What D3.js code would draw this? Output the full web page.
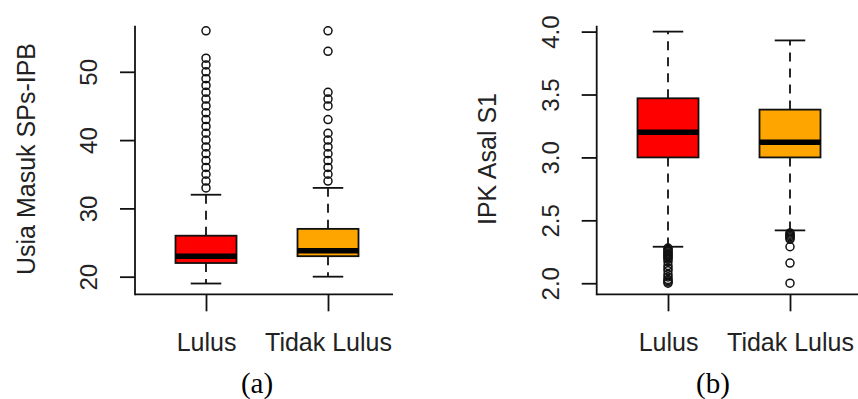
<!DOCTYPE html>
<html><head><meta charset="utf-8">
<script src="https://cdn.jsdelivr.net/npm/d3@7/dist/d3.min.js"></script>
<style>
html,body{margin:0;padding:0;background:#fff;}
svg{display:block;}
</style></head>
<body>
<svg id="c" width="858" height="399"></svg>
<script>
// ---------------- DATA ----------------
const categories = ["Lulus", "Tidak Lulus"];
const boxColors = ["#FF0000", "#FFA500"];

// Panel (a): Usia Masuk SPs-IPB
const ageTicks = [20, 30, 40, 50];
const ageLowerWhisker = [19, 20];
const ageQ1 = [22, 23];
const ageMedian = [23, 23.8];
const ageQ3 = [26, 27];
const ageUpperWhisker = [32, 33];
const ageOutliersLulus = [33,34,35,36,37,38,39,40,41,42,43,44,45,46,47,48,49,50,51,52,56];
const ageOutliersTidak = [34,35,36,37,38,39,40,41,43,45,46,47,53,56];

// Panel (b): IPK Asal S1
const ipkTicks = [2.0, 2.5, 3.0, 3.5, 4.0];
const ipkLowerWhisker = [2.29, 2.42];
const ipkQ1 = [3.0, 3.0];
const ipkMedian = [3.2, 3.12];
const ipkQ3 = [3.47, 3.38];
const ipkUpperWhisker = [4.0, 3.93];
const ipkOutliersLulus = [2.28,2.27,2.26,2.25,2.24,2.23,2.22,2.21,2.2,2.19,2.17,2.14,2.12,2.1,2.07,2.05,2.03,2.02,2.01,2.0];
const ipkOutliersTidak = [2.4,2.39,2.38,2.37,2.36,2.35,2.29,2.16,2.0];

// ---------------- DRAW ----------------
const svg = d3.select("#c");
const FONT = "'Liberation Sans', Arial, sans-serif";
const TXT = "#222";

function panel(opt) {
  const g = svg.append("g");
  const y = d3.scaleLinear().domain(opt.yDomain).range([opt.bottom, opt.top]);
  const x = d3.scalePoint().domain(categories).range(opt.xRange);
  const bw = 61;

  // Y axis
  const ya = g.append("g").attr("transform", `translate(${opt.left},0)`)
    .call(d3.axisLeft(y).tickValues(opt.ticks).tickFormat(opt.fmt).tickSize(15).tickSizeOuter(0));
  ya.select(".domain").remove();
  ya.selectAll(".tick line").attr("stroke", "#111").attr("stroke-width", 1.8);
  ya.selectAll(".tick text")
    .attr("x", null).attr("dy", null).attr("y", null)
    .attr("transform", "translate(-38,0) rotate(-90)")
    .attr("text-anchor", "middle")
    .attr("fill", TXT)
    .style("font-family", FONT).style("font-size", "24px");

  // L-shaped frame
  g.append("line").attr("x1", opt.left).attr("x2", opt.left)
    .attr("y1", opt.top).attr("y2", opt.bottom + 0.9)
    .attr("stroke", "#111").attr("stroke-width", 1.8);
  g.append("line").attr("x1", opt.left).attr("x2", opt.right)
    .attr("y1", opt.bottom).attr("y2", opt.bottom)
    .attr("stroke", "#111").attr("stroke-width", 1.8);

  // X axis
  const xa = g.append("g").attr("transform", `translate(0,${opt.bottom})`)
    .call(d3.axisBottom(x).tickSize(17).tickSizeOuter(0));
  xa.select(".domain").remove();
  xa.selectAll(".tick line").attr("stroke", "#111").attr("stroke-width", 1.8);
  xa.selectAll(".tick text").attr("y", 57).attr("dy", null)
    .attr("fill", TXT)
    .style("font-family", FONT).style("font-size", "25px");

  // Y title
  g.append("text")
    .attr("transform", `translate(${opt.titleX},${opt.titleY}) rotate(-90)`)
    .attr("text-anchor", "middle")
    .attr("fill", TXT)
    .style("font-family", FONT).style("font-size", "25px")
    .text(opt.title);

  const d = categories.map((c, i) => ({
    c, i, lo: opt.lo[i], q1: opt.q1[i], med: opt.med[i], q3: opt.q3[i], hi: opt.hi[i],
    out: opt.out[i], col: boxColors[i]
  }));

  const items = g.selectAll(".bx").data(d).join("g").attr("class", "bx");
  // whiskers (dashed)
  items.append("line").attr("x1", v => x(v.c)).attr("x2", v => x(v.c))
    .attr("y1", v => y(v.q3)).attr("y2", v => y(v.hi))
    .attr("stroke", "#111").attr("stroke-width", 1.8).attr("stroke-dasharray", "9,7");
  items.append("line").attr("x1", v => x(v.c)).attr("x2", v => x(v.c))
    .attr("y1", v => y(v.q1)).attr("y2", v => y(v.lo))
    .attr("stroke", "#111").attr("stroke-width", 1.8).attr("stroke-dasharray", "9,7");
  // caps
  items.append("line").attr("x1", v => x(v.c) - bw / 4).attr("x2", v => x(v.c) + bw / 4)
    .attr("y1", v => y(v.hi)).attr("y2", v => y(v.hi))
    .attr("stroke", "#111").attr("stroke-width", 1.8);
  items.append("line").attr("x1", v => x(v.c) - bw / 4).attr("x2", v => x(v.c) + bw / 4)
    .attr("y1", v => y(v.lo)).attr("y2", v => y(v.lo))
    .attr("stroke", "#111").attr("stroke-width", 1.8);
  // box
  items.append("rect").attr("x", v => x(v.c) - bw / 2).attr("width", bw)
    .attr("y", v => y(v.q3)).attr("height", v => y(v.q1) - y(v.q3))
    .attr("fill", v => v.col).attr("stroke", "#111").attr("stroke-width", 1.8);
  // median
  items.append("line").attr("x1", v => x(v.c) - bw / 2).attr("x2", v => x(v.c) + bw / 2)
    .attr("y1", v => y(v.med)).attr("y2", v => y(v.med))
    .attr("stroke", "#000").attr("stroke-width", 5.5);
  // outliers
  items.each(function (v) {
    d3.select(this).selectAll("circle").data(v.out).join("circle")
      .attr("cx", x(v.c)).attr("cy", o => y(o)).attr("r", 4)
      .attr("fill", "none").attr("stroke", "#111").attr("stroke-width", 1.5);
  });

  // caption
  g.append("text").attr("x", opt.capX).attr("y", 393)
    .attr("text-anchor", "middle").attr("fill", "#000")
    .style("font-family", "'Liberation Serif', 'Times New Roman', serif").style("font-size", "29px")
    .text(opt.caption);
}

panel({
  yDomain: [17.42, 56.75], top: 25.7, bottom: 294.3, left: 135, right: 393,
  xRange: [206, 328], ticks: ageTicks, fmt: d3.format("d"),
  lo: ageLowerWhisker, q1: ageQ1, med: ageMedian, q3: ageQ3, hi: ageUpperWhisker,
  out: [ageOutliersLulus, ageOutliersTidak],
  title: "Usia Masuk SPs-IPB", titleX: 35, titleY: 159,
  caption: "(a)", capX: 257
});

panel({
  yDomain: [1.912, 4.047], top: 25.7, bottom: 294.3, left: 596.7, right: 858,
  xRange: [668, 790], ticks: ipkTicks, fmt: d3.format(".1f"),
  lo: ipkLowerWhisker, q1: ipkQ1, med: ipkMedian, q3: ipkQ3, hi: ipkUpperWhisker,
  out: [ipkOutliersLulus, ipkOutliersTidak],
  title: "IPK Asal S1", titleX: 496, titleY: 159,
  caption: "(b)", capX: 713
});
</script>
</body></html>
